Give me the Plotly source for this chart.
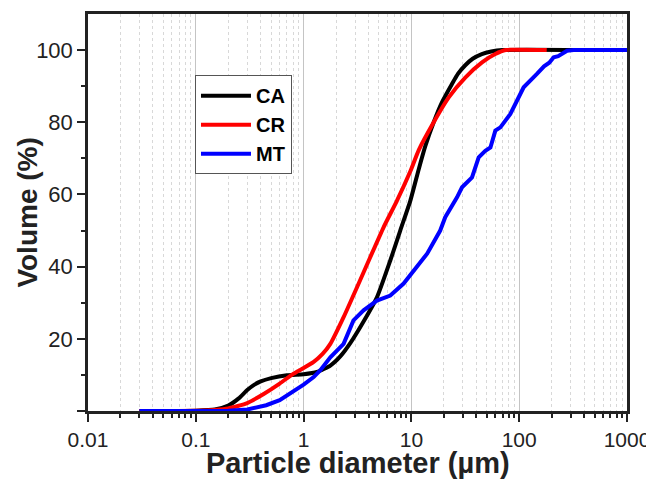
import plotly.graph_objects as go

# ---- data ----
ca_x = [0.03, 0.1, 0.15, 0.2, 0.25, 0.3, 0.35, 0.4, 0.5, 0.7, 1.0, 1.33, 1.77, 2.2, 2.71, 3.6,
        4.79, 6.37, 7.88, 9.78, 11.7, 13.5, 16.1, 19.2, 23.8, 27, 31.6, 37, 45, 55, 70, 400]
ca_y = [0, 0.1, 0.4, 1.5, 3.5, 5.8, 7.3, 8.2, 9.1, 9.9, 10.2, 10.8, 12.6, 15.2, 18.8, 24.8,
        31.5, 41.7, 50.0, 58.3, 67.0, 73.5, 80.0, 85.5, 90.6, 93.4, 95.8, 97.6, 98.9, 99.6,
        100, 100]

cr_x = [0.03, 0.1, 0.15, 0.2, 0.3, 0.43, 0.6, 0.8, 1.0, 1.24, 1.5, 1.77, 2.35, 3.13, 4.15,
        5.52, 7.35, 9.8, 11.7, 16.1, 22.2, 31.6, 45.2, 60, 75, 180]
cr_y = [0, 0.05, 0.3, 0.7, 2.2, 4.8, 7.6, 10.3, 11.9, 13.6, 15.8, 18.6, 26.0, 34.3, 42.6,
        50.9, 58.3, 66.5, 72.3, 80.0, 86.9, 92.4, 96.6, 98.9, 100, 100]

mt_x = [0.03, 0.2, 0.3, 0.45, 0.6, 0.8, 1.0, 1.24, 1.43, 1.77, 2.35, 2.9, 3.6, 4.79, 6.37,
        8.47, 10.5, 14.0, 18.5, 20.6, 26.5, 29.5, 36.5, 42.1, 48.5, 54.1, 60.1, 66.9, 82.8,
        100, 110, 146, 170, 190, 209, 230, 278, 320, 1000]
mt_y = [0, 0.1, 0.4, 1.6, 3.0, 5.3, 7.3, 9.4, 11.3, 14.9, 18.6, 25.1, 27.9, 30.6, 32.0,
        35.3, 38.9, 43.6, 50.0, 53.7, 59.2, 62.0, 64.7, 70.3, 72.1, 73.0, 77.7, 78.6, 82.3,
        87.0, 89.7, 93.4, 95.5, 96.5, 98.0, 98.3, 99.8, 100, 100]

x_ticks = [0.01, 0.1, 1, 10, 100, 1000]
x_tick_text = ["0.01", "0.1", "1", "10", "100", "1000"]
y_ticks = [0, 20, 40, 60, 80, 100]
y_tick_text = ["", "20", "40", "60", "80", "100"]
y_minor = [10, 30, 50, 70, 90]
x_minor = [m * 10 ** e for e in range(-2, 3) for m in range(2, 10)]

x_title = "Particle diameter (µm)"
y_title = "Volume (%)"

FONT = "Arial, Liberation Sans, sans-serif"

fig = go.Figure()
fig.add_trace(go.Scatter(x=ca_x, y=ca_y, name="CA", mode="lines",
                         line=dict(color="#000000", width=4, shape="spline", smoothing=0.5)))
fig.add_trace(go.Scatter(x=cr_x, y=cr_y, name="CR", mode="lines",
                         line=dict(color="#ff0000", width=4, shape="spline", smoothing=0.5)))
fig.add_trace(go.Scatter(x=mt_x, y=mt_y, name="MT", mode="lines",
                         line=dict(color="#0000ff", width=4)))

# page has an 8px body margin, so the figure is sized/offset to compensate
fig.update_layout(
    width=646, height=471,
    margin=dict(l=80, r=27, t=6, b=68),
    paper_bgcolor="white", plot_bgcolor="white",
    font=dict(family=FONT, color="#222222"),
    legend=dict(x=0.1985, y=0.846, xanchor="left", yanchor="top",
                bgcolor="white", bordercolor="#555555", borderwidth=1,
                font=dict(family=FONT, size=20, color="#000000", weight="bold"),
                tracegroupgap=0, itemwidth=50),
    annotations=[
        dict(text=x_title, xref="paper", yref="paper", x=0.5, y=-0.132,
             xanchor="center", yanchor="middle", showarrow=False,
             font=dict(family=FONT, size=29, color="#222222", weight="bold")),
        dict(text=y_title, xref="paper", yref="paper", x=-0.113, y=0.5,
             xanchor="center", yanchor="middle", showarrow=False, textangle=-90,
             font=dict(family=FONT, size=28, color="#222222", weight="bold")),
    ],
)

fig.update_xaxes(
    type="log", range=[-2, 3], automargin=False,
    tickmode="array", tickvals=x_ticks, ticktext=x_tick_text,
    tickfont=dict(size=21, color="#222222"),
    ticks="outside", ticklen=8, tickwidth=2, tickcolor="#222222",
    showline=True, linecolor="#222222", linewidth=2.5, mirror=True,
    showgrid=True, gridcolor="#c4c4c4", gridwidth=1,
    minor=dict(tickmode="array", tickvals=x_minor, ticks="outside", ticklen=4,
               tickwidth=1.5, tickcolor="#222222",
               showgrid=True, gridcolor="#d8d8d8", griddash="dot", gridwidth=1),
    zeroline=False,
)

fig.update_yaxes(
    range=[0, 110], automargin=False,
    tickmode="array", tickvals=y_ticks, ticktext=y_tick_text,
    tickfont=dict(size=22, color="#222222"),
    ticks="outside", ticklen=8, tickwidth=2, tickcolor="#222222",
    showline=True, linecolor="#222222", linewidth=2.5, mirror=True,
    showgrid=False, zeroline=False,
    minor=dict(tickmode="array", tickvals=y_minor, ticks="outside", ticklen=4,
               tickwidth=1.5, tickcolor="#222222", showgrid=False),
)

fig.write_html("out.html")
